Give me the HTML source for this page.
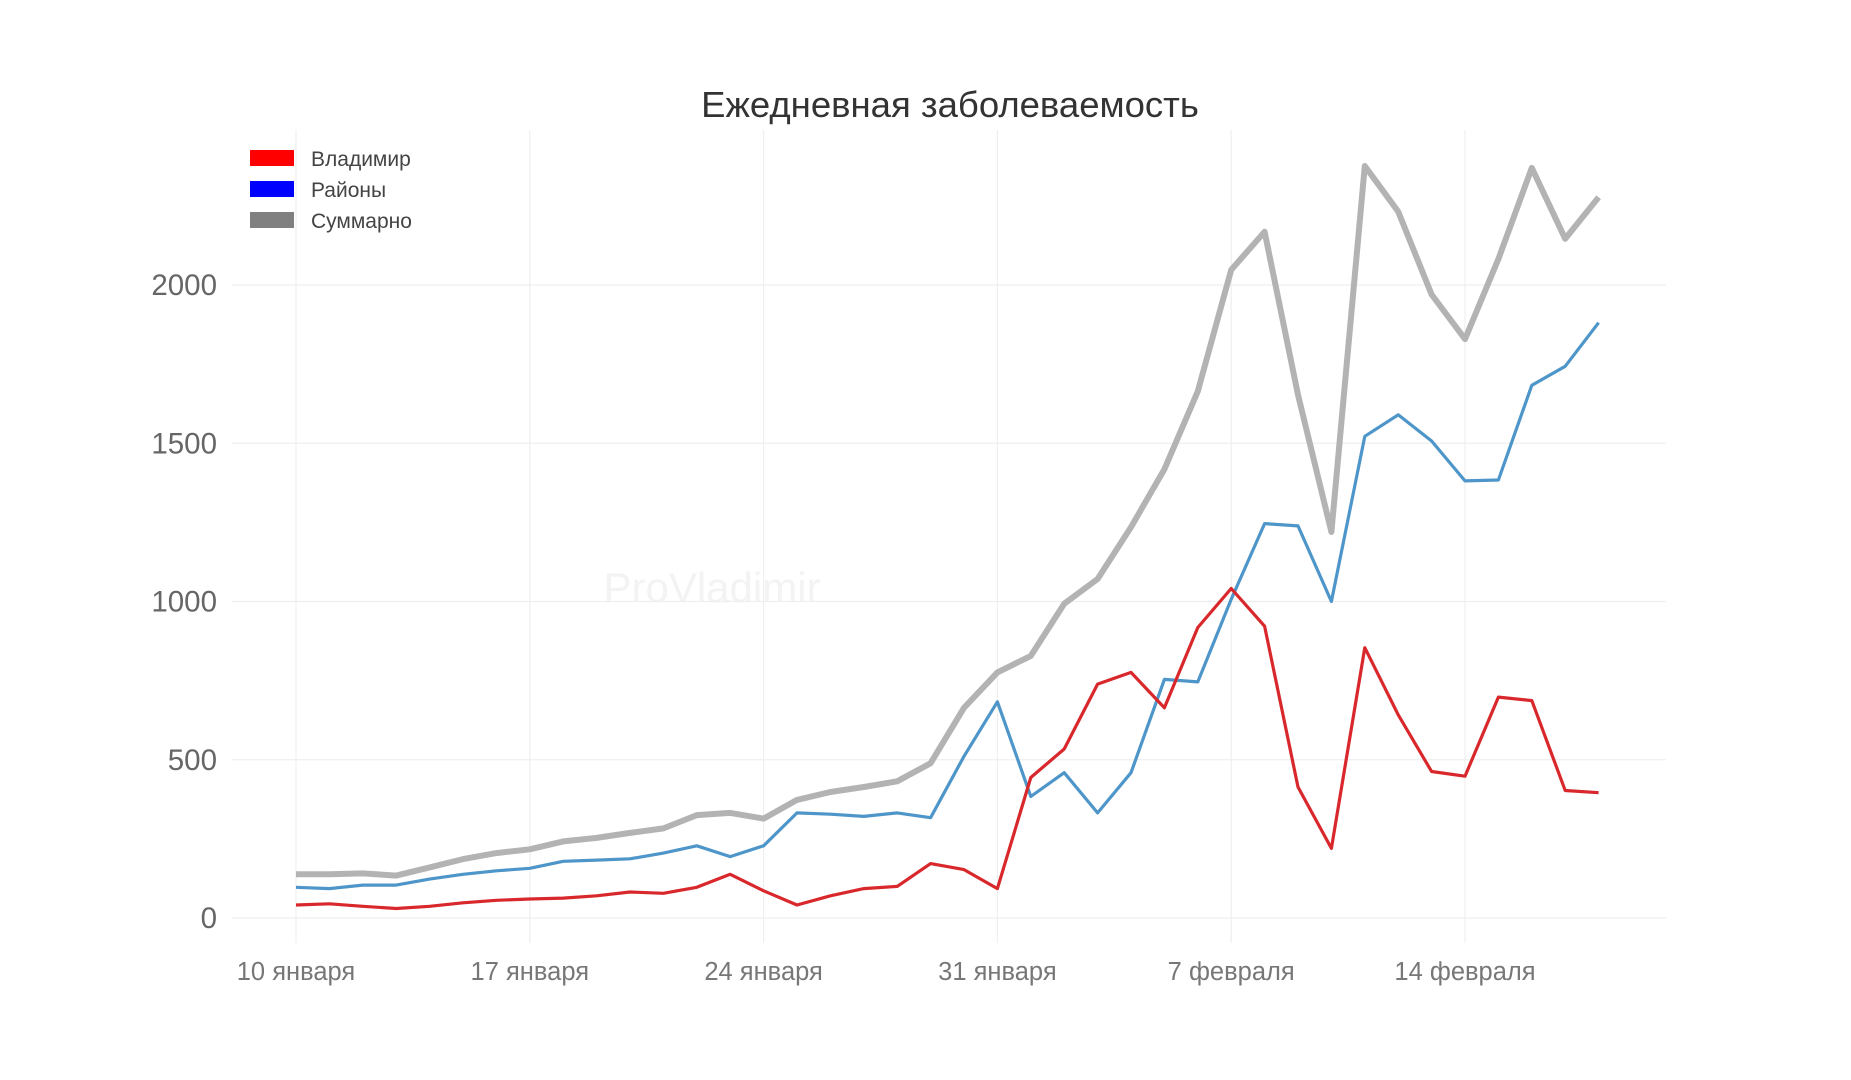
<!DOCTYPE html>
<html><head><meta charset="utf-8"><style>
html,body{margin:0;padding:0;background:#fff;}
svg{display:block;font-family:"Liberation Sans",Arial,sans-serif;}
</style></head><body>
<svg id="chart" width="1851" height="1080" viewBox="0 0 1851 1080">
<text x="950" y="117" text-anchor="middle" font-size="36.5" fill="#333">Ежедневная заболеваемость</text>
<text x="712" y="602" text-anchor="middle" font-size="42" fill="#f3f3f3">ProVladimir</text>
<g id="grid"></g>
<g id="series"></g>
<g id="legend">
 <g><rect x="250" y="150" width="44" height="16" fill="#ff0000"/><text x="311" y="166" font-size="21" fill="#444">Владимир</text></g>
 <g><rect x="250" y="181" width="44" height="16" fill="#0000ff"/><text x="311" y="197" font-size="21" fill="#444">Районы</text></g>
 <g><rect x="250" y="212" width="44" height="16" fill="#808080"/><text x="311" y="228" font-size="21" fill="#444">Суммарно</text></g>
</g>
</svg>
<script>
const vladimir=[41,45,37,30,37,48,56,60,63,70,82,78,97,138,86,41,70,93,100,172,153,93,444,534,739,776,664,918,1041,922,414,220,854,642,463,448,698,687,403,396];
const districts=[97,93,104,104,123,138,149,157,179,183,187,205,228,194,228,332,328,321,332,317,511,683,384,459,332,459,754,746,1007,1246,1239,1000,1522,1590,1507,1381,1384,1683,1743,1881];
const total=[138,138,141,134,160,186,205,217,242,253,269,283,325,332,314,373,398,414,432,489,664,776,828,993,1071,1235,1418,1664,2048,2168,1653,1220,2376,2232,1970,1829,2082,2370,2146,2277];
const yTicks=[0,500,1000,1500,2000];
const xTickIdx=[0,7,14,21,28,35];
const xTickLabels=["10 января","17 января","24 января","31 января","7 февраля","14 февраля"];
const NS="http://www.w3.org/2000/svg";
const X=i=>296+i*33.4;
const Y=v=>918-v*0.3165;
const grid=document.getElementById('grid');
yTicks.forEach(v=>{
 const l=document.createElementNS(NS,'line');
 l.setAttribute('x1',232);l.setAttribute('x2',1666);l.setAttribute('y1',Y(v));l.setAttribute('y2',Y(v));
 l.setAttribute('stroke','#efefef');l.setAttribute('stroke-width','1.2');
 
 
 grid.appendChild(l);
 const t=document.createElementNS(NS,'text');
 t.setAttribute('x',217);t.setAttribute('y',Y(v)+10);t.setAttribute('text-anchor','end');
 t.setAttribute('font-size','29.5');t.setAttribute('fill','#666');t.textContent=v;
 
 
 grid.appendChild(t);
});
xTickIdx.forEach((i,k)=>{
 const l=document.createElementNS(NS,'line');
 l.setAttribute('x1',X(i));l.setAttribute('x2',X(i));l.setAttribute('y1',130);l.setAttribute('y2',943);
 l.setAttribute('stroke','#efefef');l.setAttribute('stroke-width','1.2');
 
 
 grid.appendChild(l);
 const t=document.createElementNS(NS,'text');
 t.setAttribute('x',X(i));t.setAttribute('y',980);t.setAttribute('text-anchor','middle');
 t.setAttribute('font-size','25.5');t.setAttribute('fill','#777');t.textContent=xTickLabels[k];
 
 
 grid.appendChild(t);
});
const ser=document.getElementById('series');
function line(arr,color,w,name){
 const p=document.createElementNS(NS,'polyline');
 p.setAttribute('points',arr.map((v,i)=>X(i).toFixed(1)+','+Y(v).toFixed(1)).join(' '));
 p.setAttribute('fill','none');p.setAttribute('stroke',color);p.setAttribute('stroke-width',w);
 p.setAttribute('stroke-linejoin','round');
 
 
 ser.appendChild(p);
}
line(total,'#b3b3b3',6,'line-total');
line(districts,'#4e96c9',3.2,'line-districts');
line(vladimir,'#d9282c',3.2,'line-vladimir');
</script>
</body></html>
